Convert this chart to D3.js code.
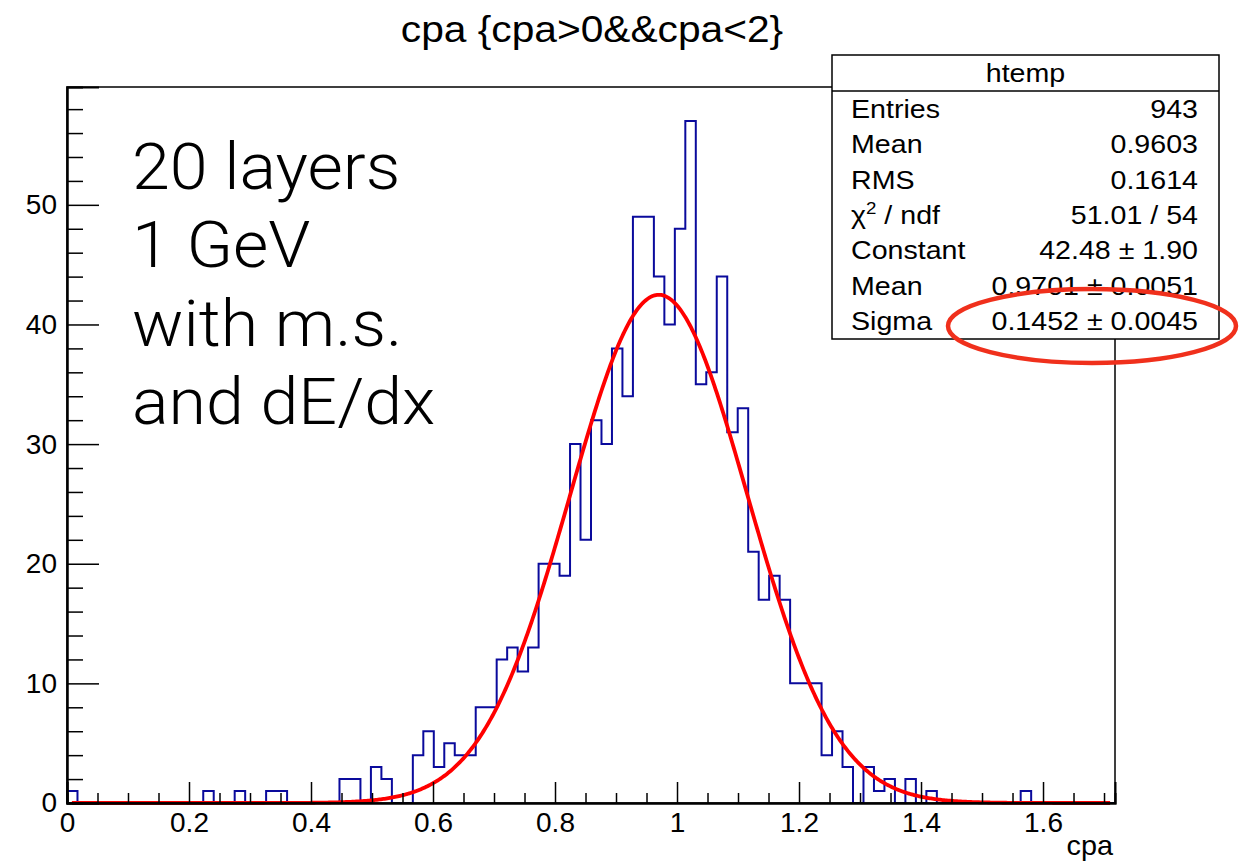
<!DOCTYPE html>
<html>
<head>
<meta charset="utf-8">
<script src="https://cdn.jsdelivr.net/npm/d3@7"></script>
<style>
  html, body { margin: 0; padding: 0; background: #fff; }
  svg { display: block; }
  text { font-family: "Liberation Sans", Arial, Helvetica, sans-serif; fill: #000; }
</style>
</head>
<body>
<svg id="chart" width="1250" height="862"></svg>
<script>
// ---------------- data ----------------
const histRange = [0, 1.718];          // x axis range of htemp
const nBins = 100;
// bin contents (100 bins)
const binCounts = [
  1,0,0,0,0,0,0,0,0,0,
  0,0,0,1,0,0,1,0,0,1,
  1,0,0,0,0,0,2,2,0,3,
  2,0,0,4,6,3,5,4,4,8,
  8,12,13,11,13,20,20,19,30,22,
  32,30,38,34,49,49,44,40,48,57,
  35,36,44,31,33,21,17,19,17,10,
  10,10,4,6,3,0,3,1,2,0,
  2,0,1,0,0,0,0,0,0,0,
  0,1,0,0,0,0,0,0,0,0
];
// gaussian fit parameters (from the stats box)
const fitParams = { constant: 42.48, mean: 0.9701, sigma: 0.1452 };
const xMajorTicks = [0, 0.2, 0.4, 0.6, 0.8, 1, 1.2, 1.4, 1.6];
const yMajorTicks = [0, 10, 20, 30, 40, 50];
const statsLabels = ["Entries", "Mean", "RMS", "CHI", "Constant", "Mean", "Sigma"];
const statsValues = ["943", "0.9603", "0.1614", "51.01 / 54", "42.48 \u00b1 1.90", "0.9701 \u00b1 0.0051", "0.1452 \u00b1 0.0045"];
const noteLines = ["20 layers", "1 GeV", "with m.s.", "and dE/dx"];
const titleText = "cpa {cpa>0&&cpa<2}";
const xTitle = "cpa";

// ---------------- layout ----------------
const svg = d3.select("#chart");
const L = 67, R = 1115, T = 87, B = 803;
const yMax = 1.05 * d3.max(binCounts);
const x = d3.scaleLinear().domain(histRange).range([L, R]);
const y = d3.scaleLinear().domain([0, yMax]).range([B, T]);
const binW = (histRange[1] - histRange[0]) / nBins;

// helper: text slightly stretched horizontally
function stext(px, py, str, size, anchor, sx) {
  return svg.append("text")
    .attr("transform", `translate(${px},${py}) scale(${sx},1)`)
    .attr("text-anchor", anchor).style("font-size", size + "px").text(str);
}

// title
stext(592, 42, titleText, 37, "middle", 1.1);

// histogram outline
const pts = [[histRange[0], 0]];
binCounts.forEach((c, i) => {
  const x0 = histRange[0] + i * binW, x1 = x0 + binW;
  pts.push([x0, c]); pts.push([x1, c]);
});
pts.push([histRange[1], 0]);
svg.append("path")
  .attr("d", d3.line().x(d => x(d[0])).y(d => y(d[1]))(pts))
  .attr("fill", "none").attr("stroke", "#0a0a9c").attr("stroke-width", 2);

// fit curve
const gauss = v => fitParams.constant * Math.exp(-0.5 * Math.pow((v - fitParams.mean) / fitParams.sigma, 2));
const fx = d3.range(0, 801).map(i => histRange[0] + 0.008 + i * (histRange[1] - 0.016) / 800);
svg.append("path")
  .attr("d", d3.line().x(v => x(v)).y(v => y(gauss(v)))(fx))
  .attr("fill", "none").attr("stroke", "#ff0000").attr("stroke-width", 3.8);

// frame
svg.append("rect").attr("x", L).attr("y", T).attr("width", R - L).attr("height", B - T)
  .attr("fill", "none").attr("stroke", "#000").attr("stroke-width", 1.5);

// x axis
const xMinor = d3.range(0, histRange[1] + 1e-9, 0.05).filter(v => Math.abs(v / 0.2 - Math.round(v / 0.2)) > 1e-6);
const gxm = svg.append("g").attr("transform", `translate(0,${B})`)
  .call(d3.axisBottom(x).tickValues(xMinor).tickSize(-10).tickFormat(""));
const gx = svg.append("g").attr("transform", `translate(0,${B})`)
  .call(d3.axisBottom(x).tickValues(xMajorTicks).tickSize(-21).tickPadding(9).tickFormat(d3.format("~g")));
[gxm, gx].forEach(g => { g.select(".domain").attr("stroke-width", 2); g.selectAll(".tick line").attr("stroke-width", 1.5); });
gx.selectAll(".tick text").style("font-size", "28px").style("font-family", "Liberation Sans, Arial, sans-serif").attr("fill", "#000");

// y axis
const yMinor = d3.range(0, yMax, 2).filter(v => v % 10 !== 0);
const gym = svg.append("g").attr("transform", `translate(${L},0)`)
  .call(d3.axisLeft(y).tickValues(yMinor).tickSize(-16).tickFormat(""));
const gy = svg.append("g").attr("transform", `translate(${L},0)`)
  .call(d3.axisLeft(y).tickValues(yMajorTicks).tickSize(-32).tickPadding(10).tickFormat(d3.format("d")));
[gym, gy].forEach(g => { g.select(".domain").attr("stroke-width", 2); g.selectAll(".tick line").attr("stroke-width", 1.5); });
gy.selectAll(".tick text").style("font-size", "28px").style("font-family", "Liberation Sans, Arial, sans-serif").attr("fill", "#000");

// x title
stext(1113, 855, xTitle, 28, "end", 1.03);

// annotation text
const note = svg.append("text").attr("transform", "translate(132,189) scale(1.065,1)")
  .style("font-family", "Roboto, 'Liberation Sans', sans-serif").style("font-weight", 300).style("font-size", "64px");
noteLines.forEach((t, i) => note.append("tspan").attr("x", 0).attr("y", i * 78.5).text(t));

// stats box
const sb = { x: 832, y: 55, w: 387, h: 284, head: 36 };
svg.append("rect").attr("x", sb.x).attr("y", sb.y).attr("width", sb.w).attr("height", sb.h)
  .attr("fill", "#fff").attr("stroke", "#000").attr("stroke-width", 1.5);
svg.append("line").attr("x1", sb.x).attr("x2", sb.x + sb.w).attr("y1", sb.y + sb.head).attr("y2", sb.y + sb.head)
  .attr("stroke", "#000").attr("stroke-width", 1.5);
stext(sb.x + sb.w / 2, 82, "htemp", 26, "middle", 1.1);
statsLabels.forEach((lab, i) => {
  const yy = 118 + i * 35.3;
  if (lab === "CHI") {
    const t = svg.append("text").attr("transform", `translate(851,${yy}) scale(1.1,1)`).style("font-size", "26px");
    t.append("tspan").text("\u03c7");
    t.append("tspan").attr("dy", -10).style("font-size", "17px").text("2");
    t.append("tspan").attr("dy", 10).text(" / ndf");
  } else stext(851, yy, lab, 26, "start", 1.1);
  stext(1198, yy, statsValues[i], 26, "end", 1.1);
});

// red highlight ellipse
svg.append("ellipse").attr("cx", 1092).attr("cy", 326).attr("rx", 144).attr("ry", 37)
  .attr("fill", "none").attr("stroke", "#f0301c").attr("stroke-width", 4.5);
</script>
</body>
</html>
